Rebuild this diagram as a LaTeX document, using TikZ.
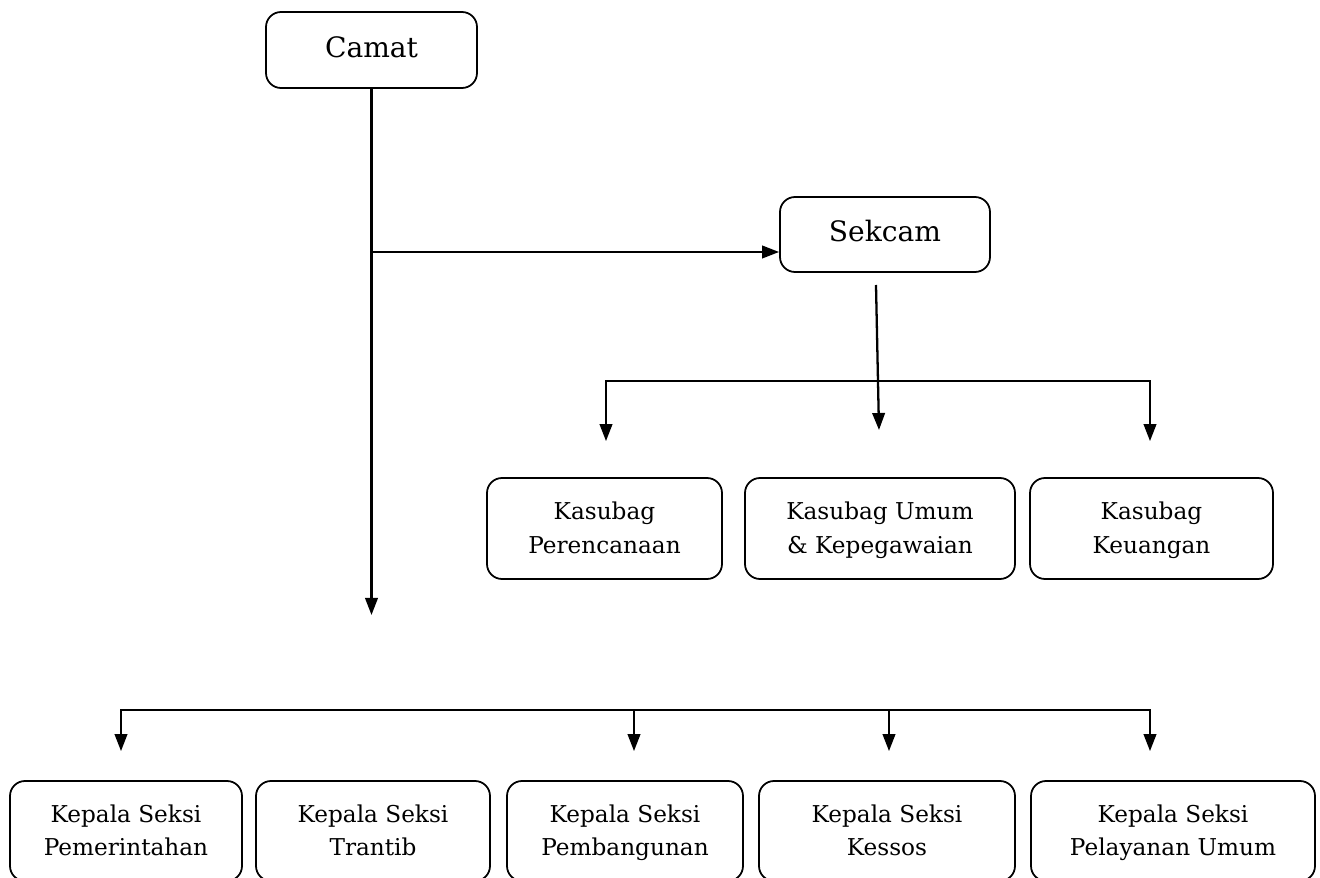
\documentclass[tikz,border=0pt]{standalone}
\usepackage{fontspec}
\setmainfont{DejaVu Serif}
\usetikzlibrary{arrows.meta}

\tikzset{
  box/.style={draw, rounded corners=0.3cm, line width=1pt, align=center, inner sep=0pt},
  unit/.style={box, minimum height=2.02cm, font=\fontsize{13.2}{19.3}\selectfont,
    text height=30pt, text depth=1.6pt},
  head/.style={box, font=\fontsize{16}{20}\selectfont,
    execute at begin node=\strut, execute at end node=\strut},
  link/.style={line width=1.3pt},
  arr/.style={line width=1.3pt, -{Triangle[length=0.34cm,width=0.25cm]}},
  twoarr/.style={line width=1.3pt,
    {Triangle[length=0.34cm,width=0.25cm]}-{Triangle[length=0.34cm,width=0.25cm]}}
}

\begin{document}
\begin{tikzpicture}
	\useasboundingbox (0,0) rectangle (26.4,17.54);

	% pimpinan
	\node[head, minimum width=4.22cm, minimum height=1.52cm] (camat) at (7.43,16.54) {Camat};
	\node[head, minimum width=4.2cm, minimum height=1.5cm] (sekcam) at (17.7,12.85) {Sekcam};

	% sub bagian
	\node[unit, minimum width=4.7cm] (perencanaan) at (12.09,6.97) {Kasubag\\Perencanaan};
	\node[unit, minimum width=5.4cm] (umum) at (17.6,6.97) {Kasubag Umum\\\& Kepegawaian};
	\node[unit, minimum width=4.86cm] (keuangan) at (23.03,6.97) {Kasubag\\Keuangan};

	% seksi
	\node[unit, minimum width=4.64cm, minimum height=2cm] (pemerintahan) at (2.52,0.92) {Kepala Seksi\\Pemerintahan};
	\node[unit, minimum width=4.68cm, minimum height=2cm] (trantib) at (7.46,0.92) {Kepala Seksi\\Trantib};
	\node[unit, minimum width=4.72cm, minimum height=2cm] (pembangunan) at (12.5,0.92) {Kepala Seksi\\Pembangunan};
	\node[unit, minimum width=5.12cm, minimum height=2cm] (kessos) at (17.74,0.92) {Kepala Seksi\\Kessos};
	\node[unit, minimum width=5.68cm, minimum height=2cm] (pelayanan) at (23.46,0.92) {Kepala Seksi\\Pelayanan Umum};

	% garis komando
	\coordinate (ujung) at (7.43,5.24);
	\coordinate (cabang) at (7.43,12.5);
	\draw[arr] (camat.south) -- (ujung);
	\draw[arr] (cabang) -- (cabang -| sekcam.west);

	\coordinate (sekbawah) at (17.52,11.84);
	\coordinate (sekujung) at (17.58,8.94);
	\draw[arr] (sekbawah) -- (sekujung);

	\coordinate (bka) at (12.12,9.92);
	\coordinate (bkb) at (23.0,9.92);
	\draw[twoarr, shorten <=0.72cm, shorten >=0.72cm]
		(bka |- perencanaan.north) -- (bka) -- (bkb) -- (bkb |- keuangan.north);

	\coordinate (bsa) at (2.42,3.34);
	\coordinate (bsb) at (23.0,3.34);
	\draw[twoarr, shorten <=0.58cm, shorten >=0.58cm]
		(bsa |- pemerintahan.north) -- (bsa) -- (bsb) -- (bsb |- pelayanan.north);
	\foreach \n/\x in {pembangunan/12.68, kessos/17.78}
		\draw[arr, shorten >=0.58cm] (\x,3.34) -- (\x,3.34 |- \n.north);
\end{tikzpicture}
\end{document}
